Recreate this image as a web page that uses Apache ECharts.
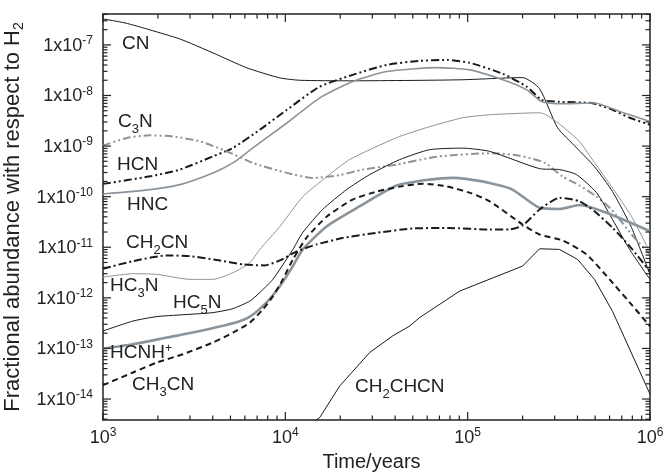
<!DOCTYPE html>
<html><head><meta charset="utf-8">
<script src="https://cdn.jsdelivr.net/npm/echarts@6/dist/echarts.min.js"></script>
<style>html,body{margin:0;padding:0;background:#fff}#c{width:665px;height:472px}</style>
</head><body><div id="c"></div>
<script>
// ---- data (time in years, fractional abundance) ----
const tCN = [1000,1320,1810,2640,4010,6150,9330,12000,22500,90400,200000,248000,311000,395000,496000,623000,792000,1000000];
const vCN = [3.26e-7,2.72e-7,1.98e-7,1.31e-7,6.95e-8,3.52e-8,2.23e-8,2.0e-8,1.95e-8,2.04e-8,2.26e-8,1.36e-8,2.31e-9,9.3e-10,3.92e-10,1.26e-10,2.45e-11,2.9e-12];

const tHCN = [1000,1810,2640,4010,5160,7240,10200,15400,23400,36000,54500,76700,103000,156000,211000,254000,319000,484000,623000,773000,1000000];
const vHCN = [1.79e-10,2.52e-10,3.43e-10,6.27e-10,9.19e-10,2.10e-9,5.22e-9,1.49e-8,2.56e-8,4.03e-8,4.83e-8,5.06e-8,4.41e-8,2.68e-8,1.49e-8,8.22e-9,7.51e-9,7.02e-9,5.22e-9,3.63e-9,2.64e-9];

const tHNC = [1000,1810,2640,4010,5160,6640,10200,15400,23400,36000,67600,103000,156000,211000,254000,319000,496000,681000,1000000];
const vHNC = [1.13e-10,1.38e-10,1.73e-10,2.95e-10,4.64e-10,9.19e-10,2.86e-9,8.89e-9,1.89e-8,2.97e-8,3.56e-8,3.21e-8,2.04e-8,1.29e-8,7.62e-9,6.86e-9,7.08e-9,4.83e-9,3.07e-9];

const tC3N = [1000,1354,1810,2420,3400,4780,6640,10200,14150,19900,26600,40800,67600,137000,193000,264000,332000,411000,509000,615000,792000,1000000];
const vC3N = [1.02e-9,1.45e-9,1.63e-9,1.55e-9,1.24e-9,7.86e-10,4.64e-10,2.95e-10,2.35e-10,2.67e-10,3.43e-10,4.30e-10,6.18e-10,7.24e-10,6.47e-10,4.71e-10,2.49e-10,1.66e-10,1.00e-10,5.57e-11,1.79e-11,7.21e-12];

const tHC3N = [1000,1460,1977,3000,4010,5160,6390,7240,9330,12470,16900,22500,40800,61900,93900,132000,248000,401000,496000,615000,792000,1000000];
const vHC3N = [2.57e-12,3.0e-12,2.91e-12,2.32e-12,2.32e-12,3.14e-12,4.94e-12,9.06e-12,2.57e-11,1.0e-10,2.49e-10,5.40e-10,1.47e-9,2.42e-9,3.63e-9,4.16e-9,4.56e-9,1.34e-9,4.71e-10,1.58e-10,4.05e-11,7.89e-12];

const tHC5N = [1000,1460,1977,3000,4010,5160,6390,7240,8540,11000,12470,16000,21700,29000,42400,61900,93900,132000,248000,319000,395000,509000,623000,773000,1000000];
const vHC5N = [2.21e-13,3.48e-13,4.26e-13,4.73e-13,5.11e-13,6.12e-13,8.65e-13,1.27e-12,2.32e-12,9.06e-12,1.96e-11,5.57e-11,1.38e-10,2.73e-10,5.40e-10,8.49e-10,9.1e-10,7.86e-10,3.58e-10,3.43e-10,2.73e-10,1.20e-10,3.53e-11,9.06e-12,2.32e-12];

const tHCNHp = [1000,1460,2240,3400,5160,6390,7920,9330,11000,12470,16900,25600,40800,61900,82800,132000,176000,248000,319000,411000,578000,1000000];
const vHCNHp = [9.95e-14,1.21e-13,1.64e-13,2.21e-13,3.14e-13,4.26e-13,8.26e-13,1.69e-12,4.24e-12,9.06e-12,2.61e-11,6.47e-11,1.66e-10,2.17e-10,2.35e-10,1.87e-10,1.38e-10,6.01e-11,5.69e-11,6.82e-11,4.79e-11,2.07e-11];

const tCH2CN = [1000,1460,2240,3000,4210,5850,7720,9330,11560,14880,20600,31700,49900,79700,132000,170000,200000,248000,319000,411000,496000,623000,773000,1000000];
const vCH2CN = [3.77e-12,5.32e-12,6.89e-12,6.67e-12,5.62e-12,4.58e-12,4.38e-12,5.49e-12,8.26e-12,1.14e-11,1.52e-11,1.93e-11,2.35e-11,2.40e-11,2.25e-11,2.25e-11,2.69e-11,5.57e-11,9.47e-11,8.11e-11,5.15e-11,2.43e-11,1.05e-11,3.33e-12];

const tCH3CN = [1000,1460,1977,2740,4010,5160,6390,7530,8540,9690,11000,13100,16900,23400,31700,42400,56700,76700,103000,132000,200000,248000,332000,449000,600000,773000,1000000];
const vCH3CN = [1.88e-14,3.35e-14,5.27e-14,7.69e-14,1.31e-13,2.06e-13,3.24e-13,5.93e-13,1.07e-12,2.32e-12,5.74e-12,1.56e-11,4.05e-11,8.77e-11,1.26e-10,1.58e-10,1.81e-10,1.60e-10,1.19e-10,8.11e-11,2.82e-11,1.79e-11,1.36e-11,7.21e-12,2.32e-12,8.15e-13,2.74e-13];

const tCH2CHCN = [13600,15450,19900,29000,38800,48100,54500,90400,200000,248000,319000,401000,496000,623000,1000000];
const vCH2CHCN = [3.05e-15,4.33e-15,1.82e-14,8.30e-14,1.77e-13,2.78e-13,4.07e-13,1.36e-12,4.24e-12,9.33e-12,9.06e-12,5.74e-12,2.32e-12,5.42e-13,1.25e-14];

// axis ranges and tick values
const xRange = [1e3, 1e6];
const yRange = [3.85e-15, 4.08e-7];
const xDecades = [1e3, 1e4, 1e5, 1e6];
const yDecades = [1e-15, 1e-14, 1e-13, 1e-12, 1e-11, 1e-10, 1e-9, 1e-8, 1e-7];
const minorMult = [2, 3, 4, 5, 6, 7, 8, 9];

// ---- styling ----
const FONT = '"Liberation Sans", Arial, Helvetica, sans-serif';
const BLACK = '#1a1a1a', GRAY = '#8b949b', AX = '#222';
const DDOT = [8,3,2,3,2,3], DDOT1 = [8,3,2,3], DASH = [6,4];
const MAJOR_LEN = 8, MINOR_LEN = 4.5;

const defs = [
  {name:'CN', t:tCN, v:vCN, color:BLACK, w:1, type:'solid'},
  {name:'HCN', t:tHCN, v:vHCN, color:BLACK, w:2, type:DDOT},
  {name:'HNC', t:tHNC, v:vHNC, color:GRAY, w:1.6, type:'solid'},
  {name:'C3N', t:tC3N, v:vC3N, color:GRAY, w:2, type:DDOT},
  {name:'HC3N', t:tHC3N, v:vHC3N, color:GRAY, w:1, type:'solid'},
  {name:'HC5N', t:tHC5N, v:vHC5N, color:BLACK, w:1, type:'solid'},
  {name:'HCNH+', t:tHCNHp, v:vHCNHp, color:GRAY, w:2.6, type:'solid'},
  {name:'CH2CN', t:tCH2CN, v:vCH2CN, color:BLACK, w:2, type:DDOT1},
  {name:'CH3CN', t:tCH3CN, v:vCH3CN, color:BLACK, w:2, type:DASH},
  {name:'CH2CHCN', t:tCH2CHCN, v:vCH2CHCN, color:BLACK, w:1, type:'solid', smooth:false}
];

const series = defs.map(d => ({
  type:'line', name:d.name, xAxisIndex:0, yAxisIndex:0,
  data:d.t.map((x,i)=>[x,d.v[i]]),
  showSymbol:false, symbol:'none', smooth: d.smooth===false ? false : 0.2,
  clip:true, silent:true,
  lineStyle:{color:d.color, width:d.w, type:d.type}
}));

// tick marks on all four sides, placed through the axes' own scales
function tickList(decades, range){
  const out = [];
  decades.forEach(d => {
    if (d >= range[0] && d <= range[1]) out.push([d, MAJOR_LEN]);
    minorMult.forEach(m => { const v = d*m; if (v > range[0] && v < range[1]) out.push([v, MINOR_LEN]); });
  });
  return out;
}
const xTicks = tickList(xDecades, xRange);
const yTicks = tickList(yDecades, yRange);
series.push({
  type:'custom', silent:true, clip:false, z:10,
  data:[[1e4, 1e-10]],
  renderItem:(params, api) => {
    const bl = api.coord([xRange[0], yRange[0]]);
    const tr = api.coord([xRange[1], yRange[1]]);
    const ch = [];
    const st = () => ({stroke:AX, lineWidth:1.2});
    xTicks.forEach(([v,len]) => {
      const px = api.coord([v, yRange[0]])[0];
      ch.push({type:'line', shape:{x1:px, y1:bl[1], x2:px, y2:bl[1]-len}, style:st()});
      ch.push({type:'line', shape:{x1:px, y1:tr[1], x2:px, y2:tr[1]+len}, style:st()});
    });
    yTicks.forEach(([v,len]) => {
      const py = api.coord([xRange[0], v])[1];
      ch.push({type:'line', shape:{x1:bl[0], y1:py, x2:bl[0]+len, y2:py}, style:st()});
      ch.push({type:'line', shape:{x1:tr[0], y1:py, x2:tr[0]-len, y2:py}, style:st()});
    });
    return {type:'group', children:ch};
  }
});

const supRich = {
  b:{fontSize:18, lineHeight:20, verticalAlign:'bottom', fontFamily:FONT, color:AX},
  s:{fontSize:12, lineHeight:14, padding:[0,0,8,0], verticalAlign:'top', fontFamily:FONT, color:AX}
};
function isPow(v){ if(!(v>0)) return null; const e=Math.log10(v), r=Math.round(e); return Math.abs(e-r)<1e-6 ? r : null; }

function axCommon(){
  return {
    axisLine:{show:true, onZero:false, lineStyle:{color:AX, width:1.5}},
    axisTick:{show:false}, minorTick:{show:false},
    splitLine:{show:false}, minorSplitLine:{show:false}
  };
}

const option = {
  animation:false,
  backgroundColor:'#fff',
  grid:{left:103, right:15, top:14, bottom:52, show:false, containLabel:false, outerBoundsMode:'none'},
  xAxis:[
    Object.assign({type:'log', logBase:10, min:xRange[0], max:xRange[1], position:'bottom',
      name:'Time/years', nameLocation:'middle', nameGap:32,
      nameTextStyle:{fontSize:20, fontFamily:FONT, color:AX, padding:[0,10,0,0]},
      axisLabel:{margin:7, formatter:v=>{const e=isPow(v); return e===null?'':'{b|10}{s|'+e+'}';}, rich:supRich}
    }, axCommon()),
    Object.assign({type:'log', logBase:10, min:xRange[0], max:xRange[1], position:'top', axisLabel:{show:false}}, axCommon())
  ],
  yAxis:[
    Object.assign({type:'log', logBase:10, min:yRange[0], max:yRange[1], position:'left',
      name:'Fractional abundance with respect to H{sub|2}', nameLocation:'middle', nameGap:66,
      nameTextStyle:{fontSize:22, fontFamily:FONT, color:AX,
        rich:{sub:{fontSize:14, fontFamily:FONT, color:AX, padding:[12,0,0,0], verticalAlign:'top'}}},
      axisLabel:{margin:10, formatter:v=>{const e=isPow(v); return e===null?'':'{b|1x10}{s|'+e+'}';}, rich:supRich}
    }, axCommon()),
    Object.assign({type:'log', logBase:10, min:yRange[0], max:yRange[1], position:'right', axisLabel:{show:false}}, axCommon())
  ],
  series: series
};

// species labels (layout only)
const labelRich = {
  b:{fontSize:19, lineHeight:20, verticalAlign:'top', fontFamily:FONT, fill:AX},
  d:{fontSize:13, lineHeight:14, padding:[11,0,0,0], verticalAlign:'top', fontFamily:FONT, fill:AX},
  u:{fontSize:12, lineHeight:14, padding:[0,0,0,0], verticalAlign:'top', fontFamily:FONT, fill:AX}
};
const labels = [
  ['{b|CN}',122,44],
  ['{b|C}{d|3}{b|N}',118,122],
  ['{b|HCN}',117,165],
  ['{b|HNC}',127,205],
  ['{b|CH}{d|2}{b|CN}',126,243],
  ['{b|HC}{d|3}{b|N}',110,286],
  ['{b|HC}{d|5}{b|N}',173,303],
  ['{b|HCNH}{u|+}',110,353],
  ['{b|CH}{d|3}{b|CN}',132,385],
  ['{b|CH}{d|2}{b|CHCN}',355,387]
];
option.graphic = labels.map(l => ({
  type:'text', left:l[1], top:l[2]-10, silent:true, z:100,
  style:{text:l[0], rich:labelRich, fill:AX, font:'19px '+FONT}
}));

const chart = echarts.init(document.getElementById('c'), null, {renderer:'canvas'});
chart.setOption(option);
</script></body></html>
